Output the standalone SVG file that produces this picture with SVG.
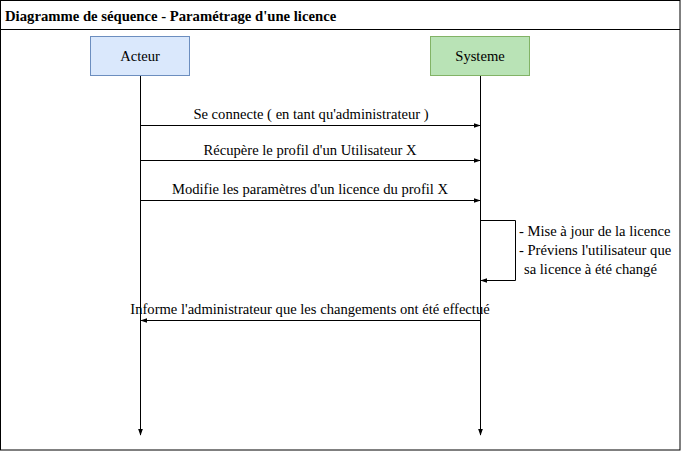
<svg xmlns="http://www.w3.org/2000/svg" width="681" height="451" viewBox="0 0 681 451">
<style>
text{font-family:"Liberation Serif","Times New Roman",serif;font-size:14.6px;fill:#000}
.l{stroke:#000;stroke-width:1;fill:none}
</style>
<defs>
<marker id="a" viewBox="0 0 10 10" refX="9" refY="5" markerWidth="7" markerHeight="7" orient="auto" markerUnits="userSpaceOnUse"><path d="M0,1.5 L10,5 L0,8.5 Z" fill="#000"/></marker>
</defs>
<rect x="0.5" y="0.5" width="679.5" height="449.5" fill="#fff" stroke="#000"/>
<line x1="0.5" y1="29.5" x2="680" y2="29.5" stroke="#000"/>
<text x="5" y="21" font-weight="bold" style="font-size:14.7px">Diagramme de séquence - Paramétrage d'une licence</text>
<g id="acteur">
<rect x="90.5" y="36.5" width="99" height="39" fill="#dae8fc" stroke="#6c8ebf"/>
<text x="140" y="61" text-anchor="middle">Acteur</text>
</g>
<g id="systeme">
<rect x="430.5" y="36.5" width="99" height="39" fill="#b9e3b6" stroke="#82b366"/>
<text x="480" y="61" text-anchor="middle">Systeme</text>
</g>
<g id="connectors">
<line class="l" x1="140.5" y1="76" x2="140.5" y2="435" marker-end="url(#a)"/>
<line class="l" x1="480.5" y1="76" x2="480.5" y2="435" marker-end="url(#a)"/>
<line class="l" x1="140" y1="125.5" x2="480" y2="125.5" marker-end="url(#a)"/>
<line class="l" x1="140" y1="160.5" x2="480" y2="160.5" marker-end="url(#a)"/>
<line class="l" x1="140" y1="200.5" x2="480" y2="200.5" marker-end="url(#a)"/>
<path class="l" d="M481,220.5 H515.5 V280.5 H481" marker-end="url(#a)"/>
<line class="l" x1="480" y1="320.5" x2="141" y2="320.5" marker-end="url(#a)"/>
<text x="311" y="119" text-anchor="middle">Se connecte ( en tant qu'administrateur )</text>
<text x="310" y="155" text-anchor="middle">Récupère le profil d'un Utilisateur X</text>
<text x="310" y="194" text-anchor="middle">Modifie les paramètres d'un licence du profil X</text>
<text x="519" y="236">- Mise à jour de la licence</text>
<text x="519" y="255">- Préviens l'utilisateur que</text>
<text x="524" y="274">sa licence à été changé</text>
<text x="310" y="314" text-anchor="middle">Informe l'administrateur que les changements ont été effectué</text>
</g>
</svg>
